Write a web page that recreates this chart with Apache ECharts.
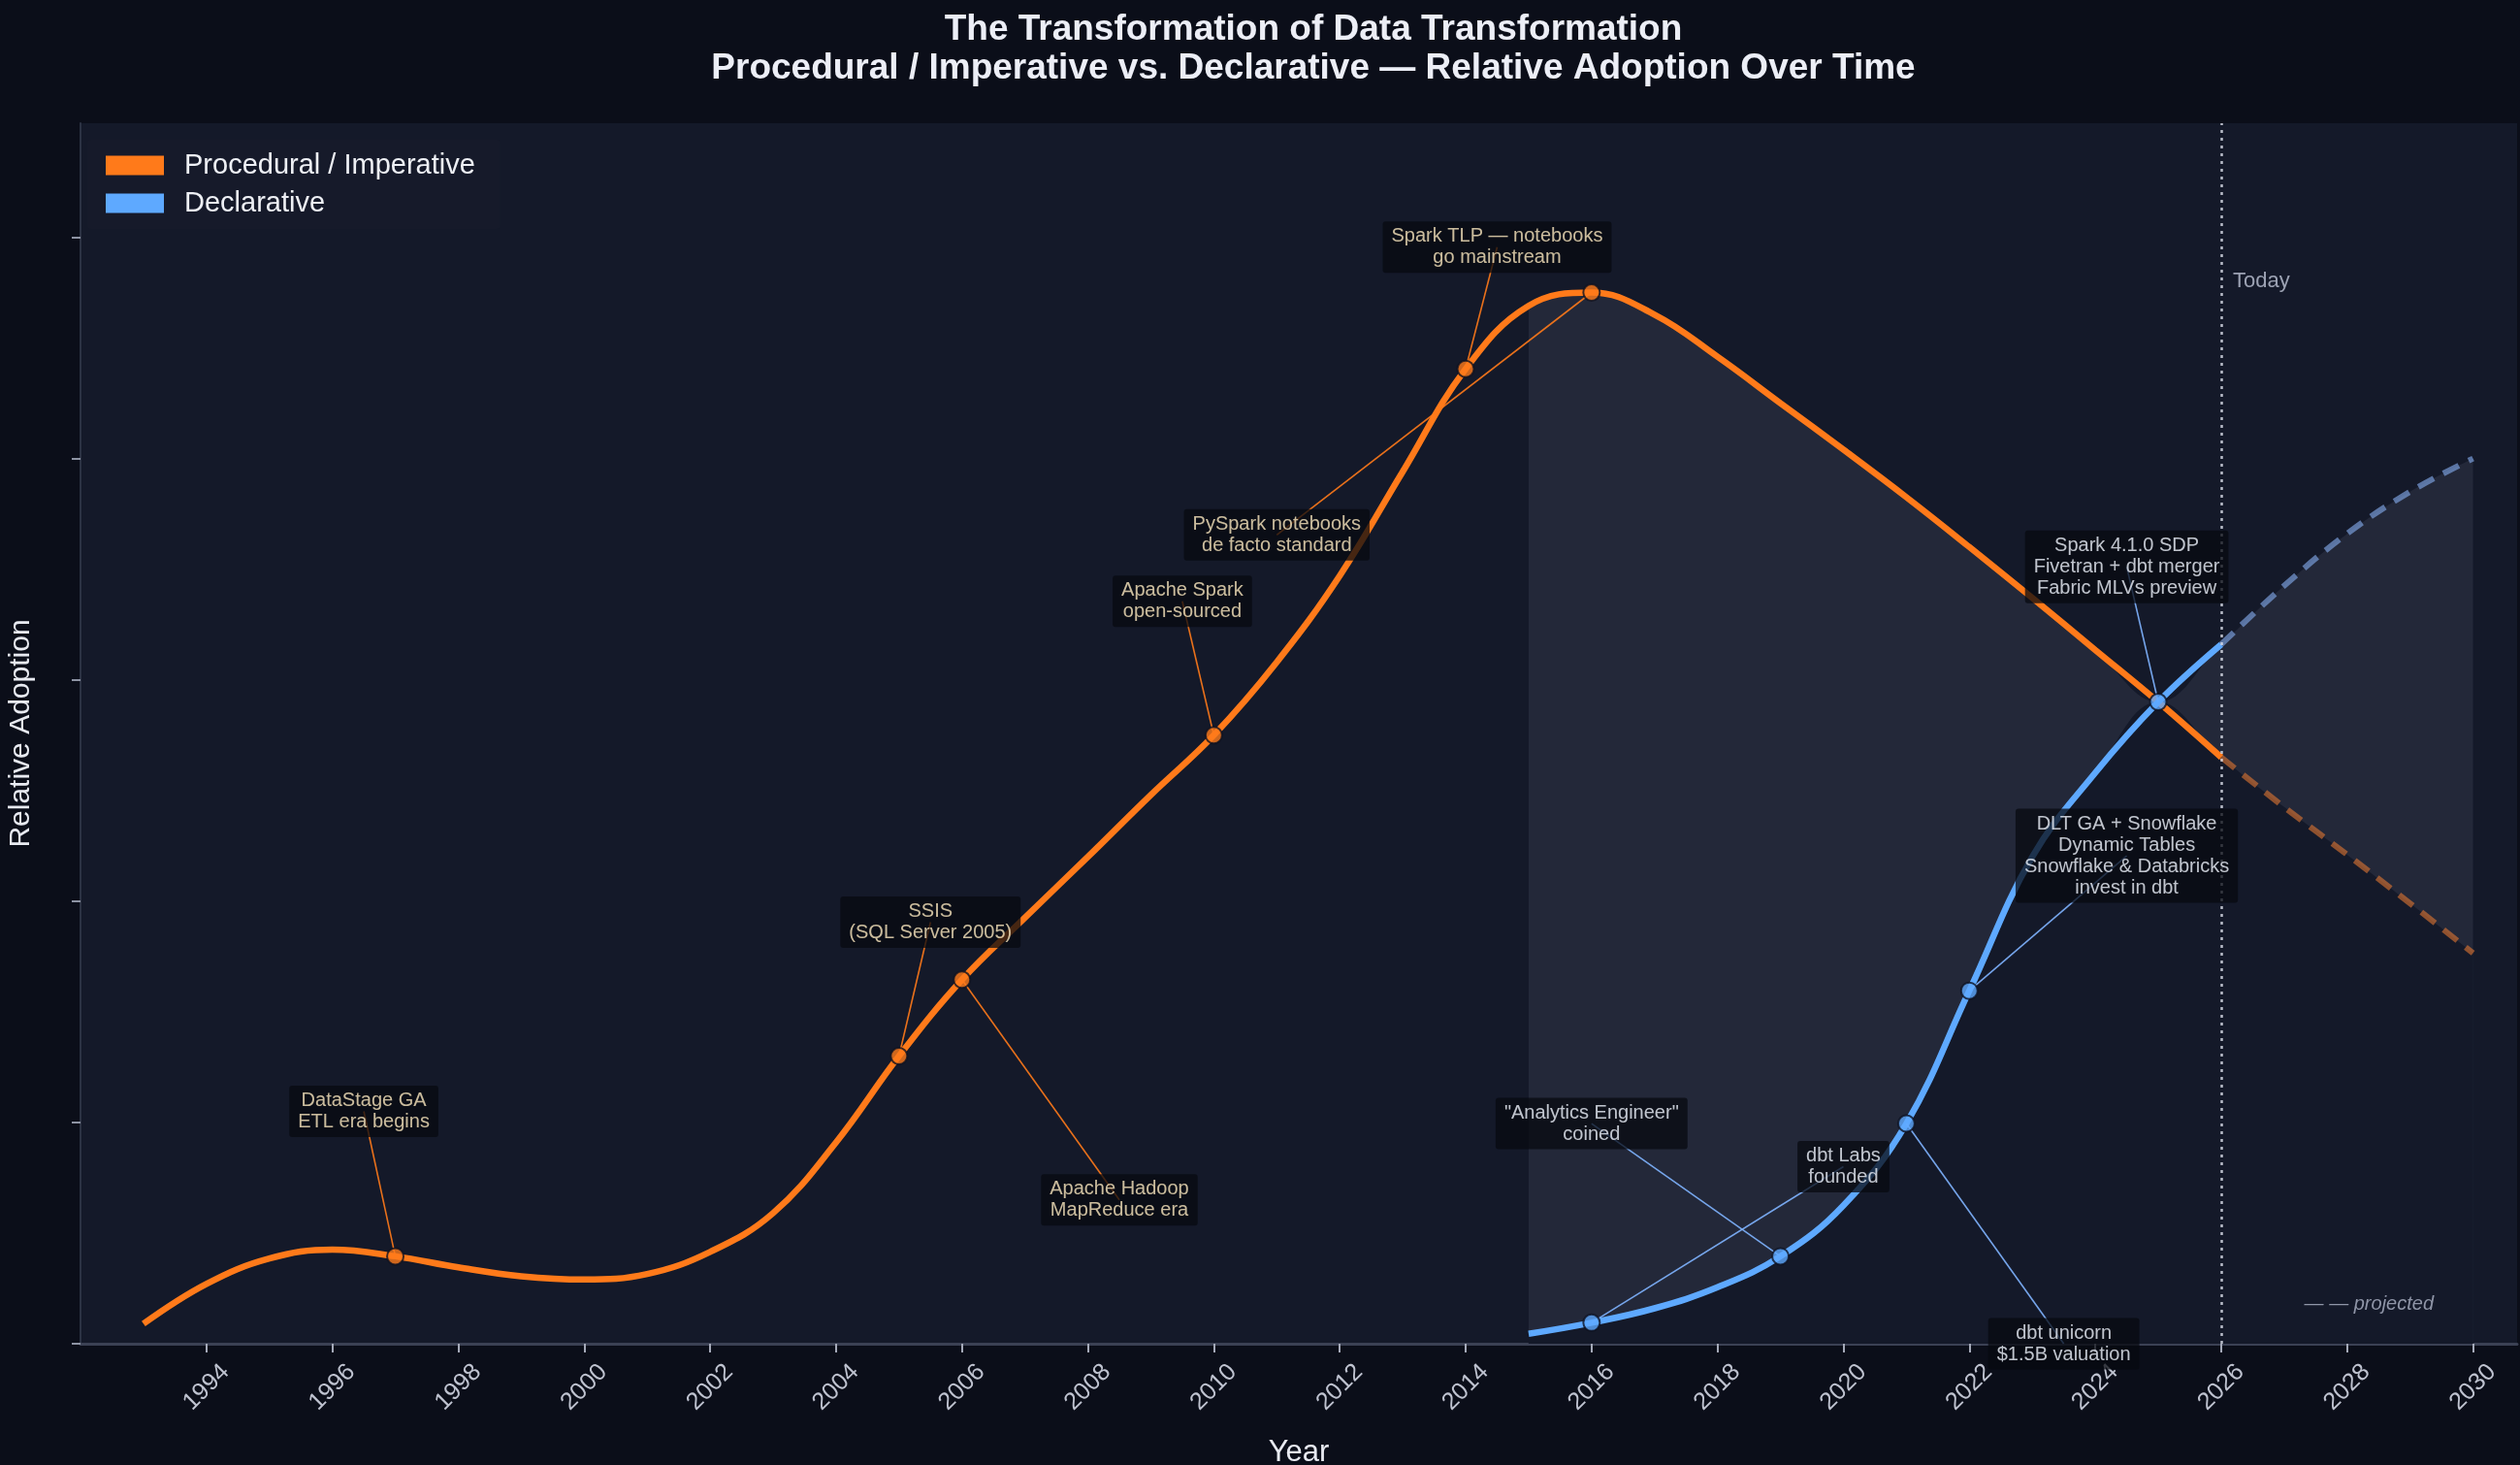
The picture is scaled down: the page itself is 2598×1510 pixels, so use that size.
<!DOCTYPE html>
<html>
<head>
<meta charset="utf-8">
<script src="https://cdn.jsdelivr.net/npm/echarts@6/dist/echarts.min.js"></script>
<style>
html,body{margin:0;padding:0;background:#0b0e19;}
#chart{width:2598px;height:1510px;}
</style>
</head>
<body>
<div id="chart"></div>
<script>
// ---------------- DATA ----------------
const years = [1993,1994,1995,1996,1997,1998,1999,2000,2001,2002,2003,2004,2005,2006,2007,2008,2009,2010,
               2011,2012,2013,2014,2015,2016,2017,2018,2019,2020,2021,2022,2023,2024,2025,2026,2027,2028,2029,2030];
const procedural = [1.8,5.4,7.7,8.5,7.9,6.9,6.1,5.8,6.3,8.3,11.8,18.2,26.0,32.9,38.5,44.0,49.6,55.0,
                    61.6,69.4,78.8,88.1,93.8,95.0,93.0,89.2,85.0,80.8,76.5,72.0,67.4,62.7,58.0,53.0,48.5,44.2,39.8,35.3];
const declYears = [2015,2016,2017,2018,2019,2020,2021,2022,2023,2024,2025,2026,2027,2028,2029,2030];
const declarative = [0.9,1.9,3.2,5.1,7.9,12.5,19.9,31.9,44.0,51.6,58.0,63.2,68.5,73.2,77.0,80.0];
const todayYear = 2026;
const xTickYears = [1994,1996,1998,2000,2002,2004,2006,2008,2010,2012,2014,2016,2018,2020,2022,2024,2026,2028,2030];
const yTickValues = [0,20,40,60,80,100];
const seriesNames = ['Procedural / Imperative','Declarative'];

// annotation: text, which series, event year, label anchor [year, value]
const annotations = [
  {text:'DataStage GA\nETL era begins', s:'proc', year:1997, at:[1996.5, 21.0]},
  {text:'SSIS\n(SQL Server 2005)', s:'proc', year:2005, at:[2005.5, 38.1]},
  {text:'Apache Hadoop\nMapReduce era', s:'proc', year:2006, at:[2008.5, 13.0]},
  {text:'Apache Spark\nopen-sourced', s:'proc', year:2010, at:[2009.5, 67.1]},
  {text:'PySpark notebooks\nde facto standard', s:'proc', year:2016, at:[2011.0, 73.1]},
  {text:'Spark TLP — notebooks\ngo mainstream', s:'proc', year:2014, at:[2014.5, 99.1]},
  {text:'"Analytics Engineer"\ncoined', s:'decl', year:2019, at:[2016.0, 19.9]},
  {text:'dbt Labs\nfounded', s:'decl', year:2016, at:[2020.0, 16.0]},
  {text:'dbt unicorn\n$1.5B valuation', s:'decl', year:2021, at:[2023.5, 0.0]},
  {text:'DLT GA + Snowflake\nDynamic Tables\nSnowflake & Databricks\ninvest in dbt', s:'decl', year:2022, at:[2024.5, 44.1]},
  {text:'Spark 4.1.0 SDP\nFivetran + dbt merger\nFabric MLVs preview', s:'decl', year:2025, at:[2024.5, 70.2]}
];

// ---------------- BUILD ----------------
const FONT = "'Liberation Sans', Arial, Helvetica, sans-serif";
const ORANGE = '#ff7a1a';
const BLUE = '#5ea9ff';
const PLOT_BG = '#141929';
const procAt = y => procedural[years.indexOf(y)];
const declAt = y => declarative[declYears.indexOf(y)];
const valAt = a => a.s === 'proc' ? procAt(a.year) : declAt(a.year);

const procSolid = years.filter(y => y <= todayYear).map(y => [y, procAt(y)]);
const procProj  = years.filter(y => y >= todayYear).map(y => [y, procAt(y)]);
const declSolid = declYears.filter(y => y <= todayYear).map(y => [y, declAt(y)]);
const declProj  = declYears.filter(y => y >= todayYear).map(y => [y, declAt(y)]);
const bandTop    = declYears.map(y => [y, Math.max(procAt(y), declAt(y))]);
const bandBottom = declYears.map(y => [y, Math.min(procAt(y), declAt(y))]);
const SMOOTH = 0.4;

const chart = echarts.init(document.getElementById('chart'), null, {renderer:'canvas', width:2598, height:1510});

const option = {
  animation: false,
  backgroundColor: '#0b0e19',
  textStyle: {fontFamily: FONT},
  title: {
    text: 'The Transformation of Data Transformation\nProcedural / Imperative vs. Declarative — Relative Adoption Over Time',
    left: 1349, top: 6, textAlign: 'center',
    textStyle: {color:'#eceef6', fontSize:37, fontWeight:'bold', lineHeight:40, fontFamily: FONT}
  },
  legend: {
    data: seriesNames,
    orient: 'vertical',
    left: 90, top: 144,
    icon: 'rect',
    itemWidth: 60, itemHeight: 20, itemGap: 10,
    padding: [12, 26, 12, 19],
    backgroundColor: 'rgba(24,29,45,0.45)',
    borderRadius: 4,
    textStyle: {color:'#eef0f5', fontSize:29, fontFamily: FONT, padding:[0,0,0,16]}
  },
  grid: {left:83, right:3, top:127, bottom:125, show:true, backgroundColor: PLOT_BG, borderWidth:0,
         outerBoundsMode:'none', containLabel:false},
  xAxis: {
    type:'value', min:1992, max:2030.7,
    axisLine:{show:true, onZero:false, lineStyle:{color:'#3b4154', width:3}},
    axisTick:{show:true, customValues: xTickYears, length:9, lineStyle:{color:'#a4a9b8', width:2}},
    axisLabel:{show:true, customValues: xTickYears, rotate:45, align:'center', verticalAlign:'middle',
               margin:45, color:'#bfc3d0', fontSize:25, fontFamily: FONT, formatter: v => String(v)},
    splitLine:{show:false},
    name:'Year', nameLocation:'middle', nameGap:97,
    nameTextStyle:{color:'#e8eaf1', fontSize:31, fontFamily: FONT}
  },
  yAxis: {
    type:'value', min:0, max:110.3,
    axisLine:{show:true, lineStyle:{color:'#2c3243', width:2}},
    axisTick:{show:true, customValues: yTickValues, length:9, lineStyle:{color:'#8d93a3', width:2}},
    axisLabel:{show:false},
    splitLine:{show:false},
    name:'Relative Adoption', nameLocation:'middle', nameGap:46,
    nameTextStyle:{color:'#e8eaf1', fontSize:30, fontFamily: FONT}
  },
  graphic: [
    {type:'text', right:89, top:1334, z:50,
     style:{text:'— — projected', fill:'#8f95a7', font:'italic 20px ' + FONT}}
  ],
  series: [
    // shaded gap between the two curves: area under the upper curve, then mask under the lower one
    {type:'line', name:'bandTop', data: bandTop, smooth: SMOOTH, symbol:'none', silent:true, z:1,
     lineStyle:{width:0}, itemStyle:{color:'#242a3c'},
     areaStyle:{color:'#232839', opacity:1}},
    {type:'line', name:'bandBottom', data: bandBottom, smooth: SMOOTH, symbol:'none', silent:true, z:1,
     lineStyle:{width:0}, itemStyle:{color: PLOT_BG},
     areaStyle:{color: PLOT_BG, opacity:1}},
    // main curves
    {type:'line', name: seriesNames[0], data: procSolid, smooth: SMOOTH, symbol:'none',
     itemStyle:{color: ORANGE}, lineStyle:{color: ORANGE, width:6.5}, z:3,
     markLine:{silent:true, symbol:'none', data:[{xAxis: todayYear}], label:{show:false},
               lineStyle:{color:'rgba(225,229,240,0.8)', width:2.5, type:[3,5]}},
     markPoint:{silent:true, symbol:'circle', symbolSize:0, data:[{coord:[todayYear, 96.0]}],
               label:{show:true, formatter:'Today', position:'right', distance:12,
                      color:'#9ca2b3', fontSize:22, fontFamily: FONT}}},
    {type:'line', name:'procProj', data: procProj, smooth: SMOOTH, symbol:'none',
     lineStyle:{color:'rgba(225,118,50,0.6)', width:6, type:[18,11]}, z:3},
    {type:'line', name: seriesNames[1], data: declSolid, smooth: SMOOTH, symbol:'none',
     itemStyle:{color: BLUE}, lineStyle:{color: BLUE, width:6.5}, z:3},
    {type:'line', name:'declProj', data: declProj, smooth: SMOOTH, symbol:'none',
     lineStyle:{color:'rgba(120,155,215,0.7)', width:6, type:[18,11]}, z:3},
    // leader lines
    {type:'lines', coordinateSystem:'cartesian2d', silent:true, z:4,
     lineStyle:{width:1.6, opacity:0.9},
     data: annotations.map(a => ({coords:[a.at, [a.year, valAt(a)]],
            lineStyle:{color: a.s === 'proc' ? ORANGE : '#7fb4ff'}}))},
    // event markers
    {type:'scatter', name:'procEvents', clip:false, z:5, symbolSize:17,
     itemStyle:{color: ORANGE, borderColor:'#0e1220', borderWidth:2},
     data: annotations.filter(a => a.s === 'proc').map(a => [a.year, valAt(a)])},
    {type:'scatter', name:'declEvents', clip:false, z:5, symbolSize:17,
     itemStyle:{color: BLUE, borderColor:'#0e1220', borderWidth:2},
     data: annotations.filter(a => a.s === 'decl').map(a => [a.year, valAt(a)])},
    // annotation labels
    {type:'scatter', name:'labels', clip:false, z:8, symbolSize:0, silent:true,
     itemStyle:{color:'transparent'},
     label:{show:true, position:'inside', fontSize:20, lineHeight:22, fontFamily: FONT,
            backgroundColor:'rgba(7,9,16,0.93)', padding:[5,9,4,9], borderRadius:3, align:'center'},
     data: annotations.map(a => ({value: a.at,
            label:{formatter: a.text, color: a.s === 'proc' ? '#fbe8bf' : '#eef2fb'}}))}
  ]
};
chart.setOption(option);
</script>
</body>
</html>
